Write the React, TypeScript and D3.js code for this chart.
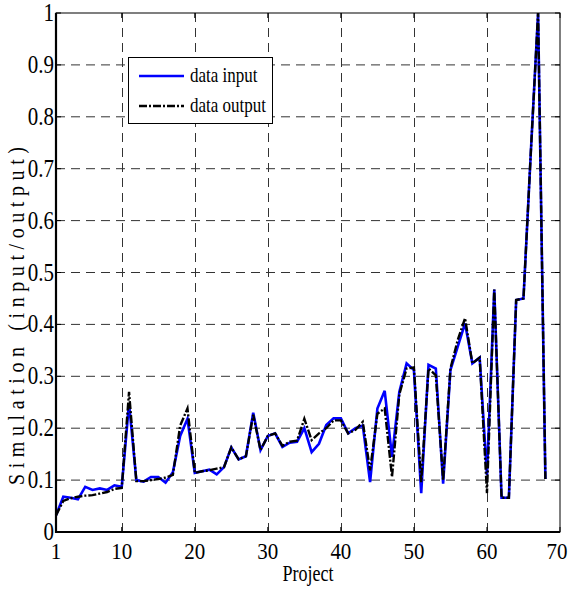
import React, { useRef, useEffect } from 'react';
import * as d3 from 'd3';

const projects = d3.range(1, 69);

const inputValues = [
  0.032, 0.068, 0.066, 0.063, 0.087, 0.081, 0.084, 0.081, 0.090, 0.087,
  0.248, 0.100, 0.097, 0.106, 0.106, 0.095, 0.115, 0.185, 0.218, 0.114,
  0.117, 0.120, 0.111, 0.125, 0.163, 0.140, 0.146, 0.230, 0.158, 0.185,
  0.190, 0.164, 0.172, 0.174, 0.200, 0.154, 0.170, 0.206, 0.219, 0.219,
  0.190, 0.200, 0.205, 0.096, 0.238, 0.272, 0.145, 0.270, 0.325, 0.312,
  0.075, 0.322, 0.315, 0.093, 0.312, 0.357, 0.402, 0.325, 0.336, 0.110,
  0.467, 0.066, 0.066, 0.447, 0.450, 0.730, 1.000, 0.102,
];

const outputValues = [
  0.032, 0.060, 0.065, 0.068, 0.070, 0.071, 0.074, 0.077, 0.083, 0.085,
  0.270, 0.098, 0.098, 0.100, 0.102, 0.105, 0.110, 0.205, 0.238, 0.114,
  0.117, 0.119, 0.122, 0.125, 0.163, 0.140, 0.146, 0.226, 0.158, 0.185,
  0.190, 0.166, 0.174, 0.176, 0.218, 0.177, 0.190, 0.200, 0.215, 0.215,
  0.190, 0.197, 0.212, 0.119, 0.228, 0.238, 0.106, 0.265, 0.315, 0.317,
  0.096, 0.315, 0.302, 0.100, 0.315, 0.370, 0.412, 0.325, 0.336, 0.075,
  0.467, 0.066, 0.066, 0.447, 0.450, 0.730, 1.000, 0.102,
];

const xTicks = [1, 10, 20, 30, 40, 50, 60, 70];
const yTicks = [0, 0.1, 0.2, 0.3, 0.4, 0.5, 0.6, 0.7, 0.8, 0.9, 1];
const seriesNames = ['data input', 'data output'];

const App = () => {
  const ref = useRef(null);

  useEffect(() => {
    const width = 568;
    const height = 590;
    const margin = { top: 13, right: 8, bottom: 58, left: 56 };
    const svg = d3.select(ref.current);
    svg.selectAll('*').remove();

    const x = d3.scaleLinear().domain([1, 70]).range([margin.left, width - margin.right]);
    const y = d3.scaleLinear().domain([0, 1]).range([height - margin.bottom, margin.top]);
    const font = "'Liberation Serif', 'Times New Roman', serif";

    svg.append('rect').attr('width', width).attr('height', height).attr('fill', 'white');

    // grid
    const grid = svg.append('g').attr('stroke', '#333').attr('stroke-width', 1)
      .attr('stroke-dasharray', '9,6');
    grid.selectAll('.vg').data(xTicks.slice(1, -1)).enter().append('line')
      .attr('x1', d => Math.round(x(d)) + 0.5).attr('x2', d => Math.round(x(d)) + 0.5)
      .attr('y1', y(1)).attr('y2', y(0));
    grid.selectAll('.hg').data(yTicks.slice(1, -1)).enter().append('line')
      .attr('x1', x(1)).attr('x2', x(70))
      .attr('y1', d => y(d)).attr('y2', d => y(d));

    // ticks (inside, all four sides)
    const ticks = svg.append('g').attr('stroke', '#000').attr('stroke-width', 1);
    yTicks.forEach(t => {
      ticks.append('line').attr('x1', x(1)).attr('x2', x(1) + 5).attr('y1', y(t)).attr('y2', y(t));
      ticks.append('line').attr('x1', x(70)).attr('x2', x(70) - 5).attr('y1', y(t)).attr('y2', y(t));
    });
    xTicks.forEach(t => {
      ticks.append('line').attr('x1', x(t)).attr('x2', x(t)).attr('y1', y(0)).attr('y2', y(0) - 5);
      ticks.append('line').attr('x1', x(t)).attr('x2', x(t)).attr('y1', y(1)).attr('y2', y(1) + 5);
    });

    // lines
    const line = d3.line<number>()
      .x((d, i) => x(projects[i]))
      .y(d => y(d));

    svg.append('path').datum(inputValues)
      .attr('fill', 'none').attr('stroke', '#0000ff').attr('stroke-width', 2.6)
      .attr('d', line);
    svg.append('path').datum(outputValues)
      .attr('fill', 'none').attr('stroke', '#000').attr('stroke-width', 2.4)
      .attr('stroke-dasharray', '8,2,2,2').attr('d', line);

    // frame
    svg.append('rect').attr('x', x(1)).attr('y', y(1))
      .attr('width', x(70) - x(1)).attr('height', y(0) - y(1))
      .attr('fill', 'none').attr('stroke', '#000').attr('stroke-width', 1);
    svg.append('path')
      .attr('d', `M${x(1)},${y(1)}V${y(0)}H${x(70)}`)
      .attr('fill', 'none').attr('stroke', '#000').attr('stroke-width', 2.2);

    // the original text looks vertically stretched
    const label = (tx, ty, text, size, anchor, stretch, extra = '') =>
      svg.append('text')
        .attr('transform', `translate(${tx},${ty}) ${extra} scale(1,${stretch})`)
        .attr('text-anchor', anchor)
        .attr('font-family', font)
        .attr('font-size', size)
        .attr('fill', '#000')
        .text(text);

    yTicks.forEach(t => label(x(1) - 2, y(t) + 8, d3.format('~g')(t), 21, 'end', 1.15));
    xTicks.forEach(t => label(t === 70 ? x(t) - 3 : x(t), y(0) + 27, String(t), 21, 'middle', 1.1));

    label(x(35.5), 581, 'Project', 18, 'middle', 1.25);
    label(24, 316, 'Simulation (input/output)', 20, 'middle', 1.15, 'rotate(-90)')
      .attr('textLength', 338).attr('lengthAdjust', 'spacing');

    // legend
    const legend = svg.append('g');
    legend.append('rect').attr('x', 128.5).attr('y', 57.5).attr('width', 144).attr('height', 66)
      .attr('fill', 'white').attr('stroke', '#000').attr('stroke-width', 1);
    legend.append('line').attr('x1', 139).attr('x2', 184).attr('y1', 76).attr('y2', 76)
      .attr('stroke', '#0000ff').attr('stroke-width', 2.6);
    legend.append('line').attr('x1', 139).attr('x2', 184).attr('y1', 106).attr('y2', 106)
      .attr('stroke', '#000').attr('stroke-width', 2.4).attr('stroke-dasharray', '8,2,2,2');
    label(190, 82, seriesNames[0], 17, 'start', 1.2);
    label(190, 112, seriesNames[1], 17, 'start', 1.2);
  }, []);

  return (
    <svg ref={ref} width={568} height={590}
      style={{ position: 'absolute', left: 0, top: 0, display: 'block' }}></svg>
  );
};

export default App;
